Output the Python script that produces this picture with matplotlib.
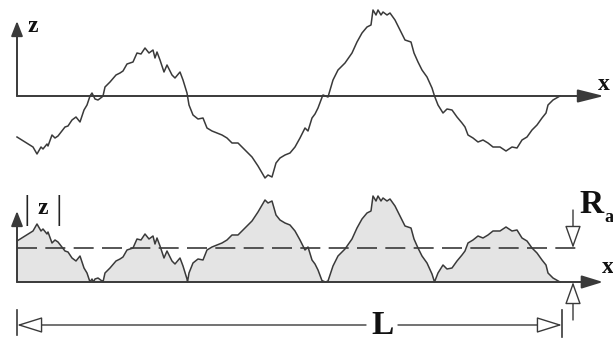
import matplotlib
matplotlib.use("Agg")
import matplotlib.pyplot as plt
import numpy as np

# Profile: x along the trace, z height above the mean line
# (both in reference pixels).
XS = [0, 8, 16, 20, 24, 26, 30, 31, 35, 38, 41, 48, 51, 55, 59, 63, 67, 70,
      73, 75, 76.5, 78, 81, 85, 86, 88, 93, 99, 103, 106, 110, 116, 120, 124,
      128, 132, 136, 138, 140, 143, 147, 150, 155, 158, 163, 166, 170, 170.5,
      172, 176, 181, 186, 190, 195, 200, 205, 210, 215, 221, 228, 235, 241,
      248, 251, 255, 259, 263, 268, 273, 278, 283, 288, 291, 295, 298, 301,
      305.5, 306, 308.5, 311, 316, 321, 328, 335, 340, 345, 350, 354, 356,
      359, 361, 364, 366, 370, 373, 378, 383, 388, 394, 397, 401, 405, 410,
      415, 417.5, 421, 426, 430, 435, 440, 445, 448, 451, 456, 461, 466, 471,
      476, 483, 489, 495, 500, 505, 510, 515, 520, 525, 529, 531, 536, 543]
ZS = [-41, -46, -51, -58, -51, -53, -48, -50, -39, -42, -40, -31, -30, -24,
      -21, -26, -14, -9, 0, 3, 0, -3, -4, -1, 0, 9, 14, 21, 23, 25, 32, 34,
      43, 42, 48, 43, 46, 38, 44, 36, 24, 31, 21, 18, 24, 16, 3, 0, -9, -19,
      -23, -22, -32, -35, -37, -39, -42, -47, -47, -54, -61, -70, -82, -79,
      -81, -67, -62, -59, -57, -51, -42, -32, -35, -22, -18, -12, 0, 1, 0,
      -1, 16, 26, 33, 43, 54, 63, 69, 71, 86, 81, 86, 81, 84, 81, 83, 76, 66,
      56, 54, 43, 34, 26, 19, 8, 0, -9, -17, -13, -14, -21, -27, -31, -39,
      -42, -46, -44, -47, -51, -51, -55, -51, -52, -44, -41, -34, -29, -22,
      -17, -9, -4, 0]
RA = 34          # mean of |z|, height of the dashed line
L_END = 545      # sampling length

INK = "#3a3a3a"
FILL = "#e4e4e4"
X0, Y_TOP, Y_BOT = 17, 96, 282

fig = plt.figure(figsize=(6.13, 3.40), dpi=100)
ax = fig.add_axes([0, 0, 1, 1])
ax.set_xlim(0, 613)
ax.set_ylim(340, 0)
ax.axis("off")

x = X0 + np.array(XS, dtype=float)
z = np.array(ZS, dtype=float)


def arrow(p0, p1, hl=0.8, hw=0.3, lw=1.4, hollow=False):
    ax.annotate("", xy=p1, xytext=p0,
                arrowprops=dict(arrowstyle=f"-|>,head_length={hl},head_width={hw}",
                                lw=lw, ec=INK, fc="white" if hollow else INK,
                                shrinkA=0, shrinkB=0))


serif = dict(family="Liberation Serif", fontweight="bold", color="#111111")

# top panel: raw profile
ax.plot(x, Y_TOP - z, color=INK, lw=1.1, zorder=3)
arrow((X0, Y_TOP), (X0, 21), hl=0.9, hw=0.35)
arrow((X0, Y_TOP), (604, Y_TOP), hl=1.6, hw=0.4)
ax.text(27, 32, "z", fontsize=17, **serif)
ax.text(598, 90, "x", fontsize=17, **serif)

# bottom panel: |z| with its mean Ra
za = np.abs(z)
ax.fill_between(x, Y_BOT, Y_BOT - za, color=FILL, lw=0, zorder=1)
ax.plot(x, Y_BOT - za, color=INK, lw=1.1, zorder=3)
ax.plot([X0, 583], [Y_BOT - RA] * 2, color=INK, lw=1.2, ls=(0, (12, 5)), zorder=2)
arrow((X0, Y_BOT), (X0, 211), hl=0.9, hw=0.35)
arrow((X0, Y_BOT), (603, Y_BOT), hl=1.3, hw=0.4)
ax.text(23, 219, "|", fontsize=24, fontfamily="Liberation Serif", color="#222222")
ax.text(37, 214, "z", fontsize=17, **serif)
ax.text(55, 219, "|", fontsize=24, fontfamily="Liberation Serif", color="#222222")
ax.text(602, 273, "x", fontsize=17, **serif)

# Ra markers
arrow((573, 210), (573, Y_BOT - RA), hl=1.4, hw=0.5, lw=1.0, hollow=True)
arrow((573, 320), (573, Y_BOT), hl=1.4, hw=0.5, lw=1.0, hollow=True)
ax.text(579, 213, "R", fontsize=24, **serif)
ax.text(604, 222, "a", fontsize=13, **serif)

# sampling length L
ax.plot([X0, X0], [310, 335], color=INK, lw=1.2)
ax.plot([X0 + L_END, X0 + L_END], [310, 337], color=INK, lw=1.2)
arrow((366, 325), (X0, 325), hl=1.6, hw=0.5, lw=1.0, hollow=True)
arrow((398, 325), (X0 + L_END, 325), hl=1.6, hw=0.5, lw=1.0, hollow=True)
ax.text(382, 334, "L", fontsize=24, ha="center", **serif)

fig.savefig("out.png", dpi=100)
